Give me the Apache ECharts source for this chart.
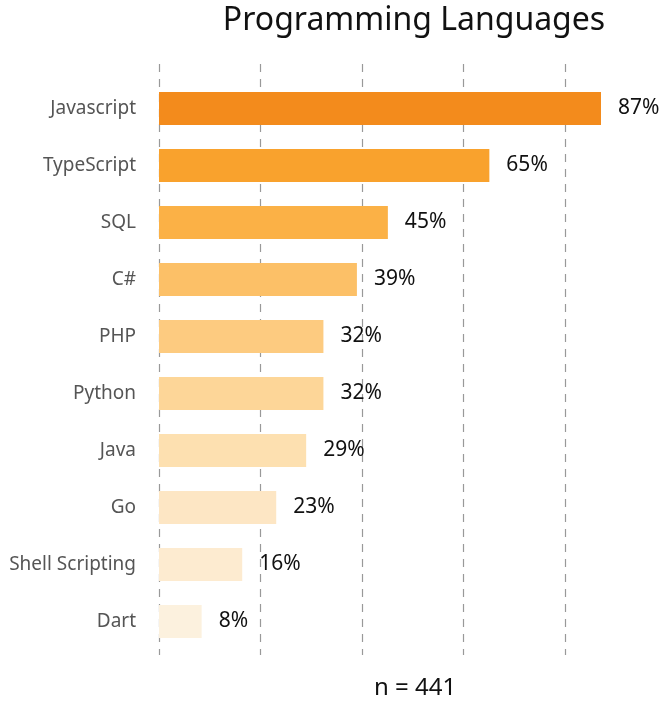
<!DOCTYPE html>
<html><head><meta charset="utf-8">
<script src="https://cdn.jsdelivr.net/npm/echarts@6/dist/echarts.min.js"></script>
<style>html,body{margin:0;padding:0;background:#fff}#c{width:665px;height:701px}</style>
</head><body><div id="c"></div>
<script>
const categories = ['Javascript','TypeScript','SQL','C#','PHP','Python','Java','Go','Shell Scripting','Dart'];
const values = [87.1,65.1,45.1,39.0,32.4,32.4,29.0,23.1,16.4,8.4];
const labels = ['87%','65%','45%','39%','32%','32%','29%','23%','16%','8%'];
const colors = ['#F38B1C','#F9A22D','#FBB146','#FCC067','#FDCB80','#FDD698','#FDE0B0','#FDE6C4','#FDEBD0','#FCF1DE'];
const titleText = 'Programming Languages';
const noteText = 'n = 441';

const FONT = '"Noto Sans", sans-serif';
const chart = echarts.init(document.getElementById('c'), null, {renderer:'canvas'});
chart.setOption({
  animation:false,
  title:[
    {text:titleText, left:409, top:0, textAlign:'center', textStyle:{fontFamily:FONT, fontSize:32, fontWeight:'normal', color:'#111'}},
    {text:noteText, left:410, top:671, textAlign:'center', textStyle:{fontFamily:FONT, fontSize:24, fontWeight:'normal', color:'#111'}}
  ],
  grid:[
    {left:159, right:64, top:64, bottom:46},
    {left:159, right:64, top:80, bottom:51}
  ],
  xAxis:[
    {gridIndex:0, type:'value', min:0, max:87.1, interval:20, axisLabel:{show:false}, axisLine:{show:false}, axisTick:{show:false},
     splitLine:{show:true, showMaxLine:false, lineStyle:{type:[8,7], color:'#999', width:1.2}}},
    {gridIndex:1, type:'value', min:0, max:87.1, show:false, splitLine:{show:false}}
  ],
  yAxis:[
    {gridIndex:0, type:'category', data:categories, show:false},
    {gridIndex:1, type:'category', data:categories, inverse:true, axisLine:{show:false}, axisTick:{show:false},
     axisLabel:{margin:23, fontFamily:FONT, fontSize:19, color:'#555'}}
  ],
  series:[{
    type:'bar', xAxisIndex:1, yAxisIndex:1, barWidth:33,
    data: values.map((v,i)=>({value:v, itemStyle:{color:colors[i]}, label:{formatter:labels[i]}})),
    label:{show:true, position:'right', distance:17, fontFamily:FONT, fontSize:21, color:'#111'}
  }]
});
</script></body></html>
